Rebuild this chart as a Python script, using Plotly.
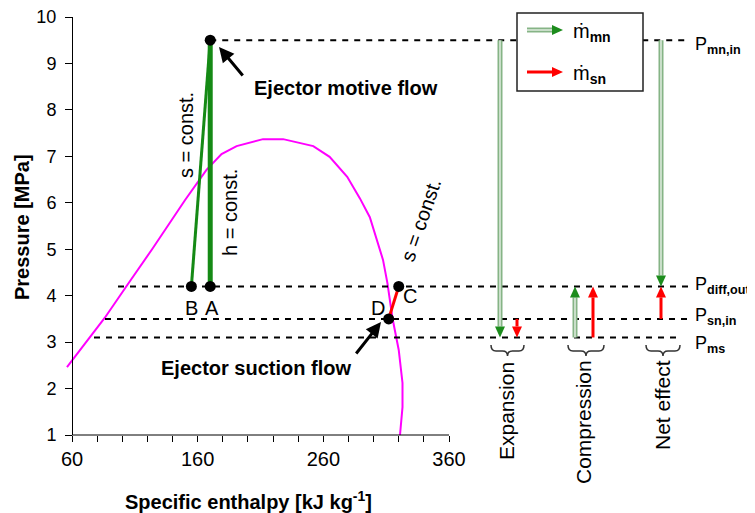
import plotly.graph_objects as go

# ---------------- data ----------------
dome_h = [56, 86, 104, 124, 150, 167, 179, 191, 212, 228, 252, 265, 279, 289, 297, 307.5, 311, 315, 320, 323, 323, 321]
dome_p = [2.46, 3.52, 4.23, 5.01, 6.06, 6.71, 7.05, 7.22, 7.37, 7.37, 7.22, 6.99, 6.56, 6.10, 5.69, 4.77, 4.27, 3.52, 2.83, 2.12, 1.60, 1.00]

state_names = ["", "A", "B", "C", "D"]
state_h = [170, 170, 155, 320, 312]
state_p = [9.5, 4.2, 4.2, 4.2, 3.5]

level_names = ["mn,in", "diff,out", "sn,in", "ms"]
level_p = [9.5, 4.2, 3.5, 3.1]

x_tick_vals = list(range(60, 361, 20))
x_tick_text = [str(v) if (v - 60) % 100 == 0 else "" for v in x_tick_vals]
y_tick_vals = list(range(1, 11))

# ---------------- geometry helpers (page pixels) ----------------
PAGE_W, PAGE_H = 755, 513
BODY = 8                      # default page margin around the figure div
W, H = PAGE_W - BODY, PAGE_H - BODY
PLOT_L, PLOT_T, PLOT_B = 62, 17, 435   # page pixel edges of plotting area
ML = PLOT_L - BODY
MT = PLOT_T - BODY
MR = 0
PW = PAGE_W - PLOT_L
PH = PLOT_B - PLOT_T
MB = H - MT - PH
PX0 = 72
PXH = (449 - 72) / 300.0
PY0 = PLOT_B
PYP = PH / 9.0


def h_at(px):
    return 60 + (px - PX0) / PXH


def px_of_h(h):
    return PX0 + (h - 60) * PXH


def py_of_p(p):
    return PY0 - (p - 1) * PYP


def xp(px):
    return (px - PLOT_L) / PW


def yp(py):
    return (PY0 - py) / PH


FONT = "Liberation Sans, Arial, sans-serif"
GREEN = "#158a15"
GREEN_HEAD = "#1c8c1c"
GREEN_SHAFT = "#86b486"
GREEN_IN = "#eef6ee"
RED = "#ff0000"

fig = go.Figure()
fig.add_trace(go.Scatter(x=dome_h, y=dome_p, mode="lines",
                         line=dict(color="#ff00ff", width=2), hoverinfo="skip"))
fig.add_trace(go.Scatter(x=[state_h[0], state_h[2]], y=[state_p[0], state_p[2]], mode="lines",
                         line=dict(color=GREEN, width=3), hoverinfo="skip"))
fig.add_trace(go.Scatter(x=[state_h[0], state_h[1]], y=[state_p[0], state_p[1]], mode="lines",
                         line=dict(color=GREEN, width=5), hoverinfo="skip"))
fig.add_trace(go.Scatter(x=[state_h[4], state_h[3]], y=[state_p[4], state_p[3]], mode="lines",
                         line=dict(color=RED, width=3), hoverinfo="skip"))
fig.add_trace(go.Scatter(x=state_h, y=state_p, mode="markers",
                         marker=dict(color="black", size=11), hoverinfo="skip", cliponaxis=False))

shapes = []
annotations = []


def line_px(x0, y0, x1, y1, color, width, dash=None):
    d = dict(type="line", xref="paper", yref="paper",
             x0=xp(x0), y0=yp(y0), x1=xp(x1), y1=yp(y1),
             line=dict(color=color, width=width))
    if dash:
        d["line"]["dash"] = dash
    shapes.append(d)


def path_px(pts, fill, color=None, width=0):
    s = "M " + " L ".join(f"{xp(x):.5f},{yp(y):.5f}" for x, y in pts) + " Z"
    shapes.append(dict(type="path", xref="paper", yref="paper", path=s,
                       fillcolor=fill, line=dict(color=color or fill, width=width)))


# dashed pressure levels
dash_start = [px_of_h(state_h[0]), 118, 105, 94]
dash_end = [685, 688, 688, 680]
for lv, xs, xe in zip(level_p, dash_start, dash_end):
    line_px(xs, py_of_p(lv), xe, py_of_p(lv), "black", 2, dash="6px,6px")

# bottom axis line
line_px(PX0, PY0, px_of_h(360), PY0, "black", 1)

HEAD_H, HEAD_W = 11, 10


def v_arrow(xpx, p_from, p_to, kind):
    tail = py_of_p(p_from)
    tip = py_of_p(p_to)
    d = 1 if tip > tail else -1
    base = tip - d * HEAD_H
    if kind == "g":
        line_px(xpx, tail, xpx, base, GREEN_SHAFT, 5)
        line_px(xpx, tail, xpx, base, GREEN_IN, 1.3)
        path_px([(xpx - HEAD_W / 2, base), (xpx + HEAD_W / 2, base), (xpx, tip)], GREEN_HEAD)
    else:
        line_px(xpx, tail, xpx, base, RED, 3)
        path_px([(xpx - HEAD_W / 2, base), (xpx + HEAD_W / 2, base), (xpx, tip)], RED)


def h_arrow_px(x0, x1, y, kind):
    base = x1 - HEAD_H
    if kind == "g":
        line_px(x0, y, base, y, GREEN_SHAFT, 5)
        line_px(x0, y, base, y, GREEN_IN, 1.3)
        path_px([(base, y - HEAD_W / 2), (base, y + HEAD_W / 2), (x1, y)], GREEN_HEAD)
    else:
        line_px(x0, y, base, y, RED, 3)
        path_px([(base, y - HEAD_W / 2), (base, y + HEAD_W / 2), (x1, y)], RED)


# right-side arrows
v_arrow(500, level_p[0], level_p[3], "g")
v_arrow(517, level_p[2], level_p[3], "r")
v_arrow(575, level_p[3], level_p[1], "g")
v_arrow(593, level_p[3], level_p[1], "r")
v_arrow(661, level_p[0], level_p[1], "g")
v_arrow(661, level_p[2], level_p[1], "r")


# braces
def brace(x0, x1, ytop=345, ybody=351, ytip=356, r=5):
    xc = (x0 + x1) / 2
    P = lambda x, y: f"{xp(x):.5f},{yp(y):.5f}"
    s = (f"M {P(x0, ytop)} Q {P(x0, ybody)} {P(x0 + r, ybody)} L {P(xc - r, ybody)} "
         f"Q {P(xc, ybody)} {P(xc, ytip)} Q {P(xc, ybody)} {P(xc + r, ybody)} "
         f"L {P(x1 - r, ybody)} Q {P(x1, ybody)} {P(x1, ytop)}")
    shapes.append(dict(type="path", xref="paper", yref="paper", path=s,
                       line=dict(color="#333333", width=1.5)))


brace(491, 524)
brace(568, 604)
brace(646, 680)

# legend box
shapes.append(dict(type="rect", xref="paper", yref="paper",
                   x0=xp(517), x1=xp(643), y0=yp(91), y1=yp(13),
                   fillcolor="white", line=dict(color="#222222", width=1.5)))
h_arrow_px(527, 563, 30, "g")
h_arrow_px(527, 563, 72, "r")


def text_px(x, y, text, size=20, bold=False, angle=0, xanchor="center", yanchor="middle"):
    if bold:
        text = f"<b>{text}</b>"
    annotations.append(dict(xref="paper", yref="paper", x=xp(x), y=yp(y), text=text,
                            showarrow=False, textangle=angle, xanchor=xanchor, yanchor=yanchor,
                            borderpad=0,
                            font=dict(family=FONT, size=size, color="black")))


text_px(572, 33, "ṁ<sub><b>mn</b></sub>", size=20, xanchor="left")
text_px(572, 75, "ṁ<sub><b>sn</b></sub>", size=20, xanchor="left")

# pressure level labels
label_dy = [5, -1, -2, 7]
for name, lv, dy in zip(level_names, level_p, label_dy):
    text_px(694, py_of_p(lv) + dy, f"P<sub><b>{name}</b></sub>", size=18, xanchor="left")

# process group labels
text_px(506, 411, "Expansion", size=21, angle=-90)
text_px(583, 422, "Compression", size=21, angle=-90)
text_px(662, 405, "Net effect", size=21, angle=-90)

# state labels
offsets = [(0, 0), (2, 22), (0, 22), (11, 10), (-11, -11)]
for nm, hh, pv, (dx, dy) in zip(state_names, state_h, state_p, offsets):
    if nm:
        text_px(px_of_h(hh) + dx, py_of_p(pv) + dy, nm, size=20)

text_px(186, 135, "s = const.", size=20, angle=-90)
text_px(230, 213, "h = const.", size=20, angle=-90)
text_px(421, 220, "s = const.", size=20, angle=-71)

text_px(346, 88, "Ejector motive flow", size=20, bold=True)
text_px(256, 368, "Ejector suction flow", size=20, bold=True)

# pointer arrows
annotations.append(dict(xref="paper", yref="paper", x=xp(219), y=yp(47), ax=25, ay=30,
                        text="", showarrow=True, arrowhead=2, arrowsize=1, arrowwidth=3,
                        arrowcolor="black"))
annotations.append(dict(xref="paper", yref="paper", x=xp(381), y=yp(322), ax=-26, ay=33,
                        text="", showarrow=True, arrowhead=2, arrowsize=1, arrowwidth=3,
                        arrowcolor="black"))

# axis titles
text_px(22, 227, "Pressure [MPa]", size=20, bold=True, angle=-90)
text_px(248, 500, "Specific enthalpy [kJ kg<sup>-1</sup>]", size=20, bold=True)

fig.update_layout(
    width=W, height=H,
    margin=dict(l=ML, r=MR, t=MT, b=MB, pad=0),
    paper_bgcolor="white", plot_bgcolor="white",
    showlegend=False,
    font=dict(family=FONT, color="black"),
    shapes=shapes, annotations=annotations,
    xaxis=dict(range=[h_at(PLOT_L), h_at(PAGE_W)], showgrid=False, zeroline=False, showline=False,
               tickmode="array", tickvals=x_tick_vals, ticktext=x_tick_text,
               ticks="outside", ticklen=6, tickwidth=1, tickcolor="black",
               ticklabeloverflow="allow",
               tickfont=dict(size=20, family=FONT, color="black")),
    yaxis=dict(range=[1, 10], anchor="free", position=xp(PX0), showgrid=False, zeroline=False,
               showline=True, linecolor="black", linewidth=1,
               tickmode="array", tickvals=y_tick_vals,
               ticks="outside", ticklen=7, tickwidth=1, tickcolor="black",
               ticklabeloverflow="allow", ticklabelstandoff=5,
               tickfont=dict(size=18, family=FONT, color="black")),
)

fig.write_html("out.html")
